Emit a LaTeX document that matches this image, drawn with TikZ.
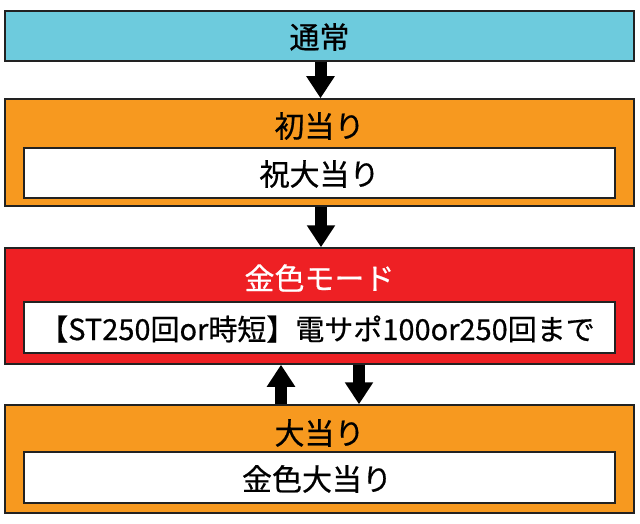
\documentclass[tikz,border=0pt]{standalone}
\usepackage{fontspec}
\setmainfont[FakeBold=0.6]{Noto Sans CJK JP}
\usetikzlibrary{arrows.meta}
\definecolor{cyanbox}{HTML}{6DCBDD}
\definecolor{orangebox}{HTML}{F7991F}
\definecolor{redbox}{HTML}{EE2024}
\definecolor{edge}{HTML}{222222}
\tikzset{
  outerbox/.style={draw=edge, line width=1.5pt, minimum width=629pt, inner sep=0pt},
  innerbox/.style={draw=edge, line width=1.5pt, fill=white, minimum width=591pt, minimum height=50pt, inner sep=0pt},
  label/.style={inner sep=0pt, font=\fontsize{30}{34}\selectfont},
  flow/.style={line width=12pt, -{Triangle[width=27pt,length=22pt]}, black}
}
\begin{document}
\begin{tikzpicture}[x=1pt,y=-1pt]
\useasboundingbox (0,0) rectangle (640,524);
% boxes
\node[outerbox, fill=cyanbox, minimum height=50pt] (normal) at (319.5,36) {};
\node[label] (normalt) at (319.5,37) {通常};

\node[outerbox, fill=orangebox, minimum height=107pt] (first) at (319.5,152.5) {};
\node[label] (firstt) at (319.5,126) {初当り};
\node[innerbox] (firstin) at (319.5,173) {};
\node[label] (firstint) at (319.5,174) {祝大当り};

\node[outerbox, fill=redbox, minimum height=116pt] (gold) at (319.5,306) {};
\node[label, text=white] (goldt) at (319.5,278) {金色モード};
\node[innerbox, minimum height=51pt] (goldin) at (319.5,327.5) {};
\node[label, font=\fontsize{29}{33}\selectfont] (goldint) at (317,329) {【ST250回or時短】電サポ100or250回まで};

\node[outerbox, fill=orangebox, minimum height=108pt] (big) at (319.5,459) {};
\node[label] (bigt) at (319.5,433) {大当り};
\node[innerbox, minimum height=51pt] (bigin) at (319.5,477.5) {};
\node[label] (bigint) at (317,479) {金色大当り};

% arrows
\coordinate (upx) at (281,0);
\coordinate (downx) at (359,0);
\draw[flow] (normal.south -| 320.5,0) -- (first.north -| 320.5,0);
\draw[flow] (first.south -| 321,0) -- (gold.north -| 321,0);
\draw[flow] (big.north -| upx) -- (gold.south -| upx);
\draw[flow] (gold.south -| downx) -- (big.north -| downx);
\end{tikzpicture}
\end{document}
